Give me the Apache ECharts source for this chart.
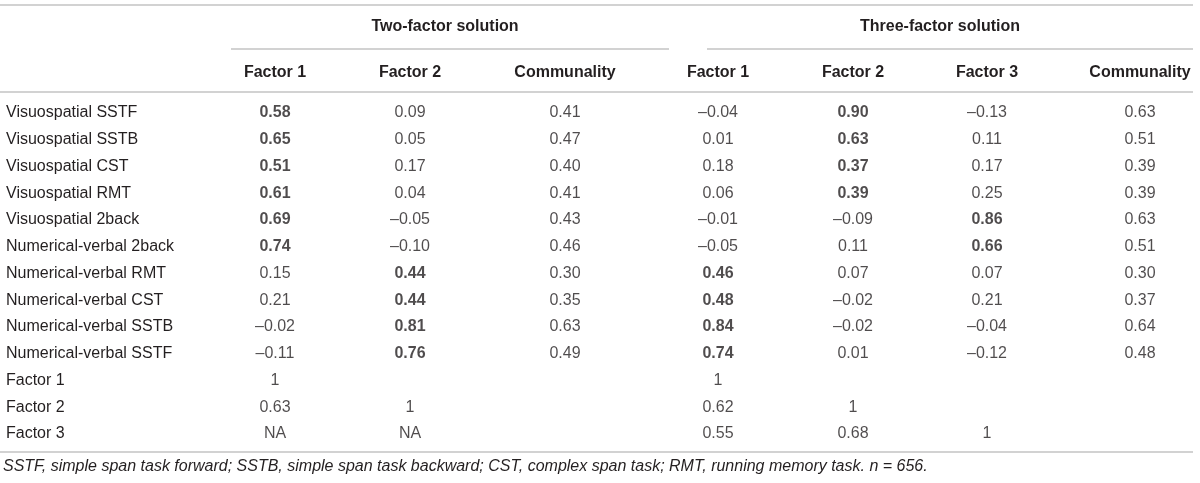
<!DOCTYPE html>
<html>
<head>
<meta charset="utf-8" />
<title>Factor solutions</title>
<script src="https://cdn.jsdelivr.net/npm/echarts@6/dist/echarts.min.js"></script>
<style>
	html, body { margin: 0; padding: 0; background: #fff; }
	#main { width: 1200px; height: 483px; }
</style>
</head>
<body>
<div id="main"></div>
<script>
	// row labels
	var rowNames = ['Visuospatial SSTF', 'Visuospatial SSTB', 'Visuospatial CST', 'Visuospatial RMT',
		'Visuospatial 2back', 'Numerical-verbal 2back', 'Numerical-verbal RMT', 'Numerical-verbal CST',
		'Numerical-verbal SSTB', 'Numerical-verbal SSTF', 'Factor 1', 'Factor 2', 'Factor 3'];
	var colHeaders = ['Factor 1', 'Factor 2', 'Communality', 'Factor 1', 'Factor 2', 'Factor 3', 'Communality'];
	var groupHeaders = ['Two-factor solution', 'Three-factor solution'];

	// two-factor solution
	var twoF1 = [0.58, 0.65, 0.51, 0.61, 0.69, 0.74, 0.15, 0.21, -0.02, -0.11, 1, 0.63, 'NA'];
	var twoF2 = [0.09, 0.05, 0.17, 0.04, -0.05, -0.10, 0.44, 0.44, 0.81, 0.76, null, 1, 'NA'];
	var twoComm = [0.41, 0.47, 0.40, 0.41, 0.43, 0.46, 0.30, 0.35, 0.63, 0.49, null, null, null];
	// three-factor solution
	var threeF1 = [-0.04, 0.01, 0.18, 0.06, -0.01, -0.05, 0.46, 0.48, 0.84, 0.74, 1, 0.62, 0.55];
	var threeF2 = [0.90, 0.63, 0.37, 0.39, -0.09, 0.11, 0.07, -0.02, -0.02, 0.01, null, 1, 0.68];
	var threeF3 = [-0.13, 0.11, 0.17, 0.25, 0.86, 0.66, 0.07, 0.21, -0.04, -0.12, null, null, 1];
	var threeComm = [0.63, 0.51, 0.39, 0.39, 0.63, 0.51, 0.30, 0.37, 0.64, 0.48, null, null, null];

	var note = 'SSTF, simple span task forward; SSTB, simple span task backward; CST, complex span task; RMT, running memory task. n = 656.';

	// layout (column centres on a 0..1200 scale)
	var colX = [275, 410, 565, 718, 853, 987, 1140];
	var columns = [twoF1, twoF2, twoComm, threeF1, threeF2, threeF3, threeComm];
	var isLoading = [true, true, false, true, true, true, false];

	var FONT = '"Liberation Sans", Arial, sans-serif';
	var SIZE = 16;
	var TXT = '#231f20';
	var LINE = '#d2d2d2';

	function fmt(v) {
		if (typeof v === 'string') return v;
		if (Number.isInteger(v)) return String(v);
		return (v < 0 ? '\u2013' : '') + Math.abs(v).toFixed(2);
	}

	var series = columns.map(function(col, c) {
		var data = [];
		col.forEach(function(v, r) {
			if (v === null) return;
			// loadings of .30 and above are printed bold
			var bold = isLoading[c] && r < 10 && typeof v === 'number' && Math.abs(v) >= 0.3;
			data.push({
				value: [colX[c], rowNames[r], v],
				label: { fontWeight: bold ? 'bold' : 'normal' }
			});
		});
		return {
			type: 'scatter',
			symbolSize: 0,
			silent: true,
			data: data,
			label: {
				show: true,
				position: 'inside',
				fontFamily: FONT,
				fontSize: SIZE,
				color: TXT,
				formatter: function(p) { return fmt(p.value[2]); }
			}
		};
	});

	function hline(x1, x2, y) {
		return { type: 'line', silent: true, shape: { x1: x1, y1: y, x2: x2, y2: y }, style: { stroke: LINE, lineWidth: 2 } };
	}
	function text(x, y, s, weight, align, style) {
		return {
			type: 'text', x: x, y: y, silent: true,
			style: {
				text: s, fill: TXT, font: (style || 'normal') + ' ' + weight + ' ' + SIZE + 'px ' + FONT,
				textAlign: align, textVerticalAlign: 'middle'
			}
		};
	}

	var graphics = [
		hline(0, 1193, 5),
		hline(231, 669, 49),
		hline(707, 1193, 49),
		hline(0, 1193, 92),
		hline(0, 1193, 452),
		text(445, 27, groupHeaders[0], 'bold', 'center'),
		text(940, 27, groupHeaders[1], 'bold', 'center'),
		text(3, 467, note, 'normal', 'left', 'italic')
	];
	colHeaders.forEach(function(h, i) {
		graphics.push(text(colX[i], 73, h, 'bold', 'center'));
	});

	var myChart = echarts.init(document.getElementById('main'));
	myChart.setOption({
		animation: false,
		grid: { left: 0, right: 0, top: 99.6, height: 347.75 },
		xAxis: {
			type: 'value', min: 0, max: 1200,
			show: false
		},
		yAxis: {
			type: 'category',
			data: rowNames,
			inverse: true,
			axisLine: { show: false },
			axisTick: { show: false },
			splitLine: { show: false },
			axisLabel: {
				inside: true,
				margin: 6,
				fontFamily: FONT,
				fontSize: SIZE,
				color: TXT
			}
		},
		graphic: graphics,
		series: series
	});
</script>
</body>
</html>
